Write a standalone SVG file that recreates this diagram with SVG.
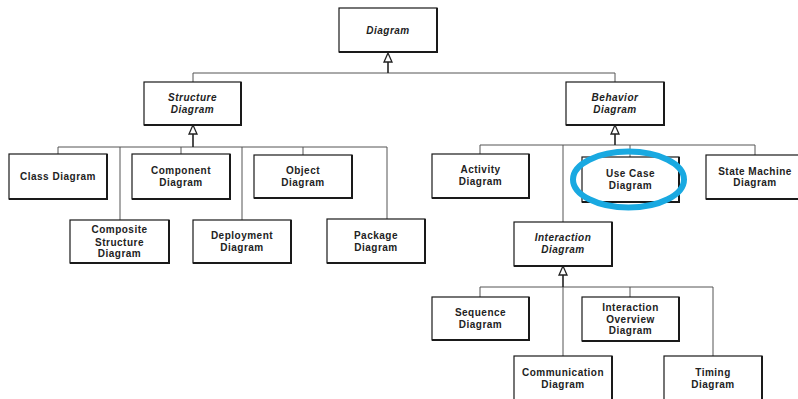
<svg xmlns="http://www.w3.org/2000/svg" width="798" height="399" viewBox="0 0 798 399">
<style>
.box{fill:#fff;stroke:#1a1a1a;stroke-width:1.2}
.sh{fill:none;stroke:#1a1a1a;stroke-width:2}
.t{font-family:"Liberation Sans",Arial,sans-serif;font-size:10px;font-weight:bold;letter-spacing:0.5px;fill:#222;text-anchor:middle}
.i{font-style:italic}
.c{fill:none;stroke:#555;stroke-width:1}
.s{fill:none;stroke:#222;stroke-width:1.6}
.a{fill:#fff;stroke:#222;stroke-width:1.3}
</style>
<rect width="798" height="399" fill="#fff"/>
<g id="connectors">
<path class="c" d="M193 73H615M193 73V82M615 73V82"/>
<path class="s" d="M388 62V73"/>
<polygon class="a" points="388,53 384,62 392,62"/>
<path class="c" d="M58 147H387M58 147V154M120 147V220M181 147V154M242 147V220M303 147V155M387 147V219"/>
<path class="s" d="M193 134V147"/>
<polygon class="a" points="193,125 189,134 197,134"/>
<path class="c" d="M480 145H755M480 145V154M563 145V222M630 145V157M755 145V155"/>
<path class="s" d="M615 134V145"/>
<polygon class="a" points="615,125 611,134 619,134"/>
<path class="c" d="M480 287H713M480 287V297M630 287V297M563 287V356M713 287V356"/>
<path class="s" d="M563 275V287"/>
<polygon class="a" points="563,266 559,275 567,275"/>
</g>
<g id="diagram"><rect class="box" x="339" y="8" width="98" height="44"/><path class="sh" d="M437 8V52H339"/><text class="t i" x="388" y="33.5">Diagram</text></g>
<g id="structure"><rect class="box" x="144" y="82" width="97" height="43"/><path class="sh" d="M241 82V125H144"/><text class="t i" x="192.5" y="101">Structure</text><text class="t i" x="192.5" y="113">Diagram</text></g>
<g id="behavior"><rect class="box" x="566" y="82" width="98" height="43"/><path class="sh" d="M664 82V125H566"/><text class="t i" x="615" y="101">Behavior</text><text class="t i" x="615" y="113">Diagram</text></g>
<g id="class"><rect class="box" x="9" y="154" width="98" height="45"/><path class="sh" d="M107 154V199H9"/><text class="t" x="58" y="180">Class Diagram</text></g>
<g id="component"><rect class="box" x="132" y="154" width="98" height="45"/><path class="sh" d="M230 154V199H132"/><text class="t" x="181" y="173.5">Component</text><text class="t" x="181" y="185.5">Diagram</text></g>
<g id="object"><rect class="box" x="254" y="155" width="98" height="43"/><path class="sh" d="M352 155V198H254"/><text class="t" x="303" y="174">Object</text><text class="t" x="303" y="186">Diagram</text></g>
<g id="composite"><rect class="box" x="70" y="220" width="99" height="43"/><path class="sh" d="M169 220V263H70"/><text class="t" x="119.5" y="233">Composite</text><text class="t" x="119.5" y="245.5">Structure</text><text class="t" x="119.5" y="257">Diagram</text></g>
<g id="deployment"><rect class="box" x="193" y="220" width="98" height="43"/><path class="sh" d="M291 220V263H193"/><text class="t" x="242" y="239">Deployment</text><text class="t" x="242" y="251">Diagram</text></g>
<g id="package"><rect class="box" x="327" y="219" width="98" height="44"/><path class="sh" d="M425 219V263H327"/><text class="t" x="376" y="239">Package</text><text class="t" x="376" y="251">Diagram</text></g>
<g id="activity"><rect class="box" x="432" y="154" width="97" height="44"/><path class="sh" d="M529 154V198H432"/><text class="t" x="480.5" y="173">Activity</text><text class="t" x="480.5" y="184.5">Diagram</text></g>
<g id="usecase"><rect class="box" x="582" y="157" width="97" height="45"/><path class="sh" d="M679 157V202H582"/><text class="t" x="630.5" y="177">Use Case</text><text class="t" x="630.5" y="188.5">Diagram</text></g>
<g id="statemachine"><rect class="box" x="706" y="155" width="98" height="44"/><path class="sh" d="M804 155V199H706"/><text class="t" x="755" y="174.5">State Machine</text><text class="t" x="755" y="186">Diagram</text></g>
<g id="interaction"><rect class="box" x="514" y="222" width="98" height="44"/><path class="sh" d="M612 222V266H514"/><text class="t i" x="563" y="241">Interaction</text><text class="t i" x="563" y="253">Diagram</text></g>
<g id="sequence"><rect class="box" x="432" y="297" width="97" height="43"/><path class="sh" d="M529 297V340H432"/><text class="t" x="480.5" y="316">Sequence</text><text class="t" x="480.5" y="327.5">Diagram</text></g>
<g id="overview"><rect class="box" x="582" y="297" width="97" height="44"/><path class="sh" d="M679 297V341H582"/><text class="t" x="630.5" y="311">Interaction</text><text class="t" x="630.5" y="322.5">Overview</text><text class="t" x="630.5" y="334">Diagram</text></g>
<g id="communication"><rect class="box" x="514" y="356" width="98" height="50"/><path class="sh" d="M612 356V406"/><text class="t" x="563" y="376">Communication</text><text class="t" x="563" y="387.5">Diagram</text></g>
<g id="timing"><rect class="box" x="664" y="356" width="98" height="50"/><path class="sh" d="M762 356V406"/><text class="t" x="713" y="376">Timing</text><text class="t" x="713" y="387.5">Diagram</text></g>
<ellipse id="highlight" cx="628.5" cy="179.5" rx="55.5" ry="28" fill="none" stroke="#19a9e1" stroke-width="6"/>
</svg>
